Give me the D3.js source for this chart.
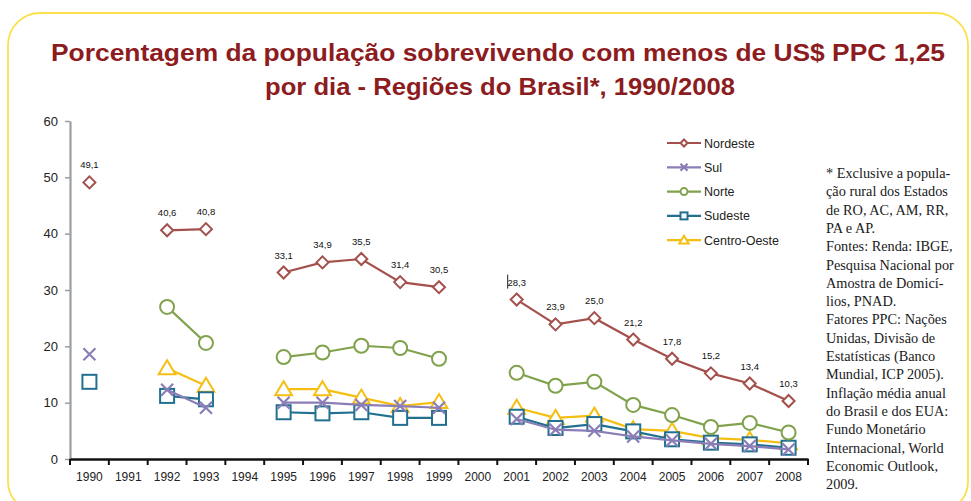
<!DOCTYPE html>
<html>
<head>
<meta charset="utf-8">
<script src="https://cdn.jsdelivr.net/npm/d3@7"></script>
<style>
  body { margin: 0; background: #fff; }
  svg { display: block; }
</style>
</head>
<body>
<div id="root"></div>
<script>
const years = ['1990','1991','1992','1993','1994','1995','1996','1997','1998','1999','2000','2001','2002','2003','2004','2005','2006','2007','2008'];
// null = sem dado (PNAD nao realizada)
const nordeste = [49.1, null, 40.6, 40.8, null, 33.1, 34.9, 35.5, 31.4, 30.5, null, 28.3, 23.9, 25.0, 21.2, 17.8, 15.2, 13.4, 10.3];
const sul = [18.6, null, 12.3, 9.1, null, 10.0, 10.0, 9.6, 9.4, 9.1, null, 7.1, 5.2, 5.0, 4.0, 3.3, 2.7, 2.3, 1.7];
const norte = [null, null, 27.0, 20.6, null, 18.1, 18.9, 20.1, 19.7, 17.8, null, 15.3, 13.0, 13.7, 9.6, 7.8, 5.7, 6.4, 4.7];
const sudeste = [13.7, null, 11.2, 10.6, null, 8.3, 8.1, 8.3, 7.3, 7.3, null, 7.5, 5.5, 6.2, 4.9, 3.5, 2.9, 2.6, 2.0];
const centroOeste = [null, null, 16.1, 13.0, null, 12.4, 12.4, 10.9, 9.4, 10.1, null, 9.1, 7.3, 7.7, 5.3, 5.0, 3.7, 3.4, 2.8];
const yTicks = [0, 10, 20, 30, 40, 50, 60];

const series = [
  { name: 'Nordeste', values: nordeste, color: '#a4504c', marker: 'diamond' },
  { name: 'Sul', values: sul, color: '#8b7db8', marker: 'cross' },
  { name: 'Norte', values: norte, color: '#80a24c', marker: 'circle' },
  { name: 'Sudeste', values: sudeste, color: '#22708f', marker: 'square' },
  { name: 'Centro-Oeste', values: centroOeste, color: '#f5be12', marker: 'triangle' }
];

const width = 971, height = 501;
const plot = { left: 70, right: 808, top: 121, bottom: 459 };

const svg = d3.select('#root').append('svg')
  .attr('width', width)
  .attr('height', height);

// moldura amarela
svg.append('rect')
  .attr('x', 8).attr('y', 13)
  .attr('width', 960).attr('height', 500)
  .attr('rx', 32).attr('ry', 32)
  .attr('fill', 'none')
  .attr('stroke', '#fbe04c')
  .attr('stroke-width', 1.8);

// titulo
const title = svg.append('g')
  .attr('font-family', 'Liberation Sans, Arial, sans-serif')
  .attr('font-weight', 'bold')
  .attr('font-size', 24)
  .attr('fill', '#8c1c1e')
  .attr('text-anchor', 'middle');
title.append('text').attr('x', 498).attr('y', 61)
  .attr('textLength', 894).attr('lengthAdjust', 'spacingAndGlyphs')
  .text('Porcentagem da população sobrevivendo com menos de US$ PPC 1,25');
title.append('text').attr('x', 500).attr('y', 95)
  .attr('textLength', 470).attr('lengthAdjust', 'spacingAndGlyphs')
  .text('por dia - Regiões do Brasil*, 1990/2008');

const x = d3.scaleBand()
  .domain(years)
  .range([plot.left, plot.right]);

const y = d3.scaleLinear()
  .domain([0, 60])
  .range([plot.bottom, plot.top]);

const cx = d => x(d) + x.bandwidth() / 2;

// eixo y
const yAxis = svg.append('g')
  .attr('transform', `translate(${plot.left}, 0)`)
  .call(d3.axisLeft(y).tickValues(yTicks).tickSizeOuter(0).tickSizeInner(5).tickPadding(7));
yAxis.select('.domain').attr('stroke', '#9a9fa4').attr('stroke-width', 2.2);
yAxis.selectAll('.tick line').attr('stroke', '#9a9fa4').attr('stroke-width', 1.5);
yAxis.selectAll('.tick text')
  .attr('font-family', 'Liberation Sans, Arial, sans-serif')
  .attr('font-size', 13)
  .attr('fill', '#222');

// eixo x
const xAxis = svg.append('g')
  .attr('transform', `translate(0, ${plot.bottom})`)
  .call(d3.axisBottom(x).tickSizeOuter(0).tickSize(0).tickPadding(13));
xAxis.select('.domain').attr('stroke', '#111').attr('stroke-width', 2.5);
xAxis.selectAll('.tick text')
  .attr('font-family', 'Liberation Sans, Arial, sans-serif')
  .attr('font-size', 12)
  .attr('fill', '#222');
// marcas entre categorias
xAxis.selectAll('.sep')
  .data([years[0]].concat(years))
  .join('line')
  .attr('class', 'sep')
  .attr('x1', (d, i) => i === 0 ? x(d) : x(d) + x.bandwidth())
  .attr('x2', (d, i) => i === 0 ? x(d) : x(d) + x.bandwidth())
  .attr('y1', 0).attr('y2', 6)
  .attr('stroke', '#111').attr('stroke-width', 2);

function drawMarker(g, type, color, s) {
  if (type === 'diamond') {
    g.append('path').attr('d', `M0,${-s}L${s},0L0,${s}L${-s},0Z`)
      .attr('fill', '#fff').attr('stroke', color).attr('stroke-width', 2);
  } else if (type === 'circle') {
    g.append('circle').attr('r', s)
      .attr('fill', '#fff').attr('stroke', color).attr('stroke-width', 2);
  } else if (type === 'square') {
    g.append('rect').attr('x', -s).attr('y', -s).attr('width', 2 * s).attr('height', 2 * s)
      .attr('fill', '#fff').attr('stroke', color).attr('stroke-width', 2);
  } else if (type === 'triangle') {
    g.append('path').attr('d', `M0,${-s}L${s * 1.05},${s * 0.75}L${-s * 1.05},${s * 0.75}Z`)
      .attr('fill', '#fff').attr('stroke', color).attr('stroke-width', 2);
  } else if (type === 'cross') {
    g.append('path').attr('d', `M${-s},${-s}L${s},${s}M${-s},${s}L${s},${-s}`)
      .attr('fill', 'none').attr('stroke', color).attr('stroke-width', 2.2);
  }
}

const markerSize = { diamond: 6, circle: 7, square: 7, triangle: 8, cross: 6 };

const line = d3.line()
  .defined(d => d.v !== null)
  .x(d => cx(d.year))
  .y(d => y(d.v));

// desenha de tras para frente (Nordeste por cima)
series.slice().reverse().forEach(s => {
  const pts = years.map((year, i) => ({ year, v: s.values[i] }));
  svg.append('path')
    .datum(pts)
    .attr('d', line)
    .attr('fill', 'none')
    .attr('stroke', s.color)
    .attr('stroke-width', 2.2);
  pts.filter(d => d.v !== null).forEach(d => {
    const g = svg.append('g').attr('transform', `translate(${cx(d.year)}, ${y(d.v)})`);
    drawMarker(g, s.marker, s.color, markerSize[s.marker]);
  });
});

// rotulos Nordeste
const fmt = v => v.toFixed(1).replace('.', ',');
svg.append('g')
  .selectAll('text')
  .data(years.map((year, i) => ({ year, v: nordeste[i] })).filter(d => d.v !== null))
  .join('text')
  .attr('x', d => cx(d.year))
  .attr('y', d => y(d.v) - 14)
  .attr('text-anchor', 'middle')
  .attr('font-family', 'Liberation Sans, Arial, sans-serif')
  .attr('font-size', 9.5)
  .attr('fill', '#111')
  .text(d => fmt(d.v));

// pequeno traco junto ao rotulo de 2001
svg.append('line')
  .attr('x1', cx('2001') - 9).attr('x2', cx('2001') - 9)
  .attr('y1', y(28.3) - 25).attr('y2', y(28.3) - 11)
  .attr('stroke', '#222').attr('stroke-width', 1);

// legenda
const legend = svg.append('g').attr('transform', 'translate(667, 143)');
series.forEach((s, i) => {
  const g = legend.append('g').attr('transform', `translate(0, ${i * 24.3})`);
  g.append('line').attr('x1', 0).attr('x2', 34).attr('stroke', s.color).attr('stroke-width', 2.2);
  const m = g.append('g').attr('transform', 'translate(17, 0)');
  drawMarker(m, s.marker, s.color, s.marker === 'triangle' ? 4.5 : 3.5);
  g.append('text')
    .attr('x', 37).attr('y', 4.5)
    .attr('font-family', 'Liberation Sans, Arial, sans-serif')
    .attr('font-size', 12.5)
    .attr('fill', '#222')
    .text(s.name);
});

// nota lateral
const noteLines = [
  '* Exclusive a popula-',
  'ção rural dos Estados',
  'de RO, AC, AM, RR,',
  'PA e AP.',
  'Fontes: Renda: IBGE,',
  'Pesquisa Nacional por',
  'Amostra de Domicí-',
  'lios, PNAD.',
  'Fatores PPC: Nações',
  'Unidas, Divisão de',
  'Estatísticas (Banco',
  'Mundial, ICP 2005).',
  'Inflação média anual',
  'do Brasil e dos EUA:',
  'Fundo Monetário',
  'Internacional, World',
  'Economic Outlook,',
  '2009.'
];
svg.append('g')
  .selectAll('text')
  .data(noteLines)
  .join('text')
  .attr('x', 826)
  .attr('y', (d, i) => 178 + i * 18.3)
  .attr('font-family', 'Liberation Serif, Times New Roman, serif')
  .attr('font-size', 14.3)
  .attr('fill', '#1a1a1a')
  .text(d => d);
</script>
</body>
</html>
